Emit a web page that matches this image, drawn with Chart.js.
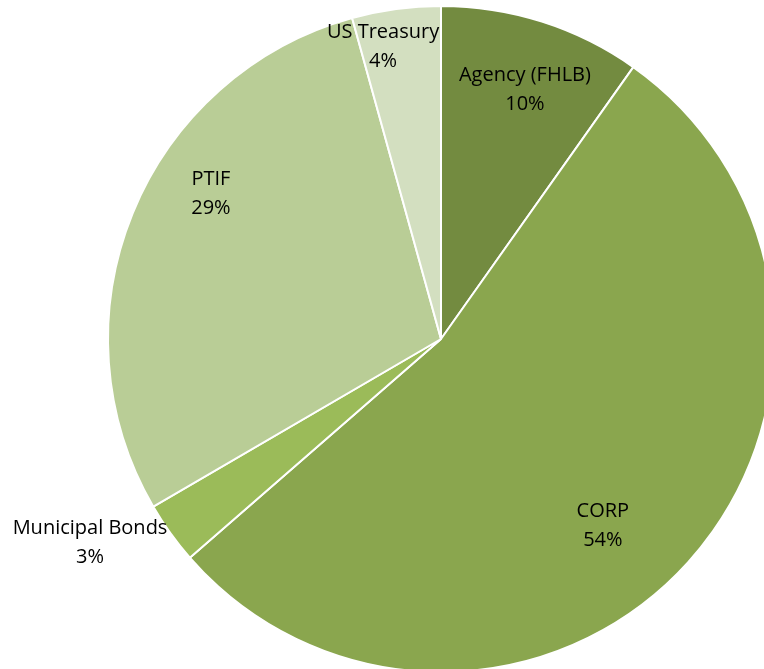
<!DOCTYPE html>
<html>
<head>
<meta charset="utf-8">
<script src="https://cdn.jsdelivr.net/npm/chart.js@4"></script>
<style>
html,body{margin:0;padding:0;background:#fff;overflow:hidden;}
#wrap{width:764px;height:669px;overflow:hidden;position:relative;}
canvas{position:absolute;left:0;top:0;}
</style>
</head>
<body>
<div id="wrap"><canvas id="c" width="882" height="678"></canvas></div>
<script>
const categories = ['Agency (FHLB)', 'CORP', 'Municipal Bonds', 'PTIF', 'US Treasury'];
const shares = [9.8, 53.8, 3.0, 29.1, 4.3];
const sliceColors = ['#738b40', '#8aa64e', '#9bbb59', '#b9cd96', '#d3dfc0'];
// label placement relative to pie centre, in units of the radius
const labelOffsets = [[0.252,-0.749],[0.486,0.56],[-1.054,0.611],[-0.691,-0.435],[-0.174,-0.877]];

const labelPlugin = {
  id: 'sliceLabels',
  afterDatasetsDraw(chart) {
    const ctx = chart.ctx;
    const meta = chart.getDatasetMeta(0);
    const data = chart.data.datasets[0].data;
    const total = data.reduce((a,b)=>a+b,0);
    ctx.save();
    ctx.font = '20px "Open Sans"';
    ctx.fillStyle = '#000';
    ctx.textAlign = 'center';
    ctx.textBaseline = 'middle';
    meta.data.forEach((arc, i) => {
      const r = arc.outerRadius;
      const x = arc.x + labelOffsets[i][0]*r;
      const y = arc.y + labelOffsets[i][1]*r;
      ctx.fillText(chart.data.labels[i], x, y - 14.5);
      ctx.fillText(Math.round(data[i]/total*100) + '%', x, y + 14.5);
    });
    ctx.restore();
  }
};

new Chart(document.getElementById('c'), {
  type: 'pie',
  data: {
    labels: categories,
    datasets: [{
      data: shares,
      backgroundColor: sliceColors,
      borderColor: '#ffffff',
      borderWidth: 2
    }]
  },
  options: {
    responsive: false,
    animation: false,
    layout: { padding: 5 },
    plugins: { legend: { display: false }, tooltip: { enabled: false } }
  },
  plugins: [labelPlugin]
});
</script>
</body>
</html>
